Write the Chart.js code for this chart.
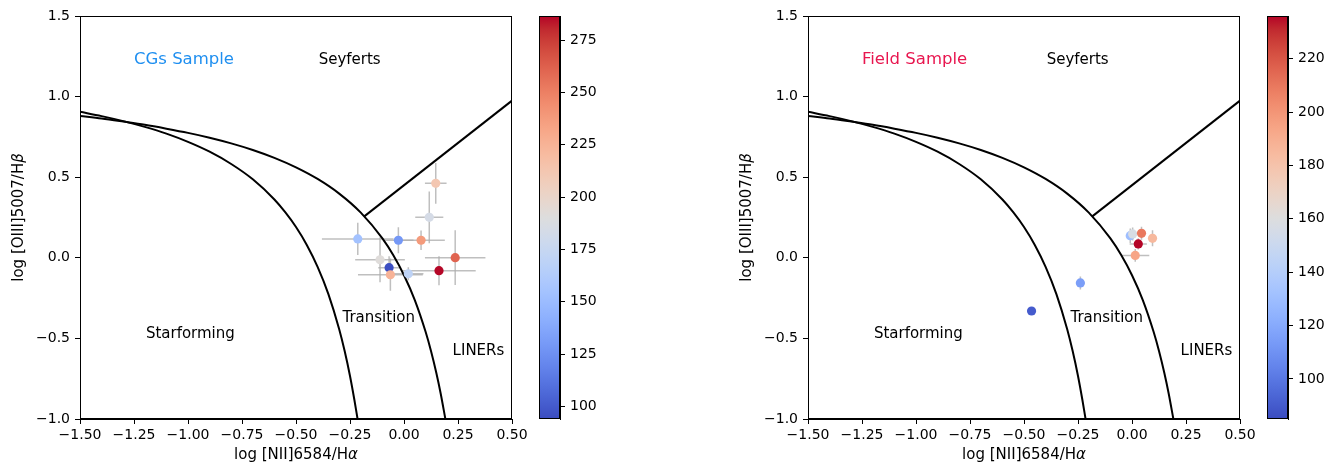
<!DOCTYPE html>
<html>
<head>
<meta charset="utf-8">
<script src="https://cdn.jsdelivr.net/npm/chart.js@4.4.1/dist/chart.umd.min.js"></script>
<style>
  html, body { margin: 0; padding: 0; background: #fff; }
  #wrap { position: relative; width: 1342px; height: 465px; overflow: hidden; }
  canvas { position: absolute; top: 0; }
</style>
</head>
<body>
<div id="wrap">
  <canvas id="mainL" width="540" height="465" style="left:0px;width:540px;height:465px"></canvas>
  <canvas id="cbL" width="100" height="465" style="left:539px;width:100px;height:465px"></canvas>
  <canvas id="mainR" width="540" height="465" style="left:728px;width:540px;height:465px"></canvas>
  <canvas id="cbR" width="75" height="465" style="left:1267px;width:75px;height:465px"></canvas>
</div>
<script>
// ---------------- DATA ----------------
// Left panel: CGs sample
const cgX    = [0.147, 0.117, -0.214, -0.026, 0.079, 0.237, -0.111, -0.069, 0.162, -0.063, 0.020];
const cgY    = [0.462, 0.251, 0.117, 0.109, 0.109, 0.001, -0.012, -0.061, -0.080, -0.105, -0.099];
const cgXErr = [0.05, 0.065, 0.166, 0.07, 0.11, 0.14, 0.115, 0.05, 0.17, 0.15, 0.07];
const cgYErr = [0.126, 0.16, 0.10, 0.08, 0.06, 0.17, 0.14, 0.07, 0.09, 0.10, 0.04];
const cgVal  = [212, 184, 154, 129, 238, 261, 192, 95, 286, 225, 170];
const cgRange = [94, 286.5];
const cgTicks = [100, 125, 150, 175, 200, 225, 250, 275];

// Right panel: Field sample
const fdX    = [-0.008, 0.003, 0.044, 0.095, 0.029, 0.015, -0.239, -0.465];
const fdY    = [0.137, 0.148, 0.152, 0.121, 0.086, 0.015, -0.156, -0.330];
const fdXErr = [0.02, 0.02, 0.02, 0.02, 0.04, 0.065, 0.02, 0.01];
const fdYErr = [0.045, 0.04, 0.04, 0.05, 0.035, 0.04, 0.04, 0.01];
const fdVal  = [130, 157, 210, 185, 236, 194, 115, 90];
const fdRange = [85, 236];
const fdTicks = [100, 120, 140, 160, 180, 200, 220];

// Demarcation curves
const kauffX = [-1.5, -1.4, -1.3, -1.2, -1.1, -1.0, -0.9, -0.8, -0.7, -0.6, -0.55, -0.5, -0.45, -0.4, -0.35, -0.3, -0.275, -0.25, -0.23, -0.215];
const kauffY = [0.906, 0.879, 0.848, 0.812, 0.770, 0.719, 0.658, 0.582, 0.487, 0.362, 0.283, 0.191, 0.080, -0.056, -0.225, -0.443, -0.577, -0.733, -0.879, -1.0];
const kewX = [-1.5, -1.4, -1.3, -1.2, -1.1, -1.0, -0.9, -0.8, -0.7, -0.6, -0.5, -0.4, -0.3, -0.2, -0.1, -0.05, 0.0, 0.05, 0.1, 0.125, 0.15, 0.17, 0.1915];
const kewY = [0.880, 0.864, 0.845, 0.825, 0.801, 0.775, 0.745, 0.710, 0.669, 0.620, 0.561, 0.489, 0.398, 0.280, 0.120, 0.017, -0.108, -0.262, -0.459, -0.578, -0.716, -0.843, -1.0];
const seyX = [-0.184, 0.5];
const seyY = [0.257, 0.975];

// Axis ticks
const xTicks = [-1.5, -1.25, -1.0, -0.75, -0.5, -0.25, 0.0, 0.25, 0.5];
const yTicks = [-1.0, -0.5, 0.0, 0.5, 1.0, 1.5];

// Region labels
const regionLabels = ['Seyferts', 'Transition', 'Starforming', 'LINERs'];
const regionX = [-0.395, -0.285, -1.195, 0.225];
const regionY = [1.2, -0.4, -0.5, -0.6];
const sampleNames = ['CGs Sample', 'Field Sample'];
const sampleX = -1.25, sampleY = 1.2;

// ---------------- STYLE ----------------
const coolwarm = [
 [59,76,192],[68,90,204],[77,104,215],[87,117,225],[98,130,234],[108,142,241],[119,154,247],[130,165,251],
 [141,176,254],[152,185,255],[163,194,255],[174,201,253],[184,208,249],[194,213,244],[204,217,238],[213,219,230],
 [221,221,221],[229,216,209],[236,211,197],[241,204,185],[245,196,173],[247,187,160],[247,177,148],[247,166,135],
 [244,154,123],[241,141,111],[236,127,99],[229,112,88],[222,96,77],[213,80,66],[203,62,56],[192,40,47],[180,4,38]];
function cmap(t) {
  t = Math.max(0, Math.min(1, t));
  const f = t * 32, i = Math.min(31, Math.floor(f)), r = f - i;
  const a = coolwarm[i], b = coolwarm[i + 1];
  return 'rgb(' + [0,1,2].map(k => Math.round(a[k] + (b[k] - a[k]) * r)).join(',') + ')';
}
const FONT = "'DejaVu Sans', sans-serif";
Chart.defaults.font.family = FONT;
Chart.defaults.font.size = 14;
Chart.defaults.color = '#000';
const fmt = (v, d) => v.toFixed(d).replace('-', '\u2212');

const framePlugin = {
  id: 'frame',
  afterDraw(chart) {
    const a = chart.chartArea, c = chart.ctx;
    c.save(); c.strokeStyle = '#000'; c.lineWidth = 1;
    c.strokeRect(Math.round(a.left) + 0.5, Math.round(a.top) + 0.5, Math.round(a.right - a.left) - 1, Math.round(a.bottom - a.top) - 1);
    c.restore();
  }
};

function drawMixed(c, parts, x, y, size) {
  let total = 0;
  parts.forEach(p => { c.font = (p[1] ? 'italic ' : '') + size + 'px ' + FONT; p.w = c.measureText(p[0]).width; total += p.w; });
  let cx = x - total / 2;
  c.textAlign = 'left'; c.textBaseline = 'alphabetic';
  parts.forEach(p => { c.font = (p[1] ? 'italic ' : '') + size + 'px ' + FONT; c.fillText(p[0], cx, y); cx += p.w; });
}

function makePanel(id, X, Y, XE, YE, V, range, sampleName, sampleColor) {
  const colors = V.map(v => cmap((v - range[0]) / (range[1] - range[0])));
  const pts = X.map((x, i) => ({ x, y: Y[i] }));
  const line = (xs, ys) => xs.map((x, i) => ({ x, y: ys[i] }));
  const lineStyle = { showLine: true, pointRadius: 0, borderColor: '#000', borderWidth: 2, fill: false, order: 2 };
  const errPlugin = {
    id: 'errbars',
    beforeDatasetsDraw(chart) {
      const xs = chart.scales.x, ys = chart.scales.y, c = chart.ctx;
      c.save(); c.strokeStyle = 'rgba(175,175,175,0.8)'; c.lineWidth = 1.5;
      X.forEach((x, i) => {
        c.beginPath();
        c.moveTo(xs.getPixelForValue(x - XE[i]), ys.getPixelForValue(Y[i]));
        c.lineTo(xs.getPixelForValue(x + XE[i]), ys.getPixelForValue(Y[i]));
        c.moveTo(xs.getPixelForValue(x), ys.getPixelForValue(Y[i] - YE[i]));
        c.lineTo(xs.getPixelForValue(x), ys.getPixelForValue(Y[i] + YE[i]));
        c.stroke();
      });
      c.restore();
    }
  };
  const textPlugin = {
    id: 'texts',
    afterDatasetsDraw(chart) {
      const xs = chart.scales.x, ys = chart.scales.y, c = chart.ctx, a = chart.chartArea;
      c.save(); c.textAlign = 'left'; c.textBaseline = 'alphabetic';
      c.fillStyle = '#000'; c.font = '15px ' + FONT;
      regionLabels.forEach((t, i) => c.fillText(t, xs.getPixelForValue(regionX[i]), ys.getPixelForValue(regionY[i])));
      c.fillStyle = sampleColor; c.font = '16.5px ' + FONT;
      c.fillText(sampleName, xs.getPixelForValue(sampleX), ys.getPixelForValue(sampleY));
      c.fillStyle = '#000';
      drawMixed(c, [['log [NII]6584/H', false], ['\u03b1', true]], (a.left + a.right) / 2, 459, 15);
      c.save(); c.translate(23, (a.top + a.bottom) / 2); c.rotate(-Math.PI / 2);
      drawMixed(c, [['log [OIII]5007/H', false], ['\u03b2', true]], 0, 0, 15);
      c.restore();
      c.restore();
    }
  };
  const axisCommon = {
    type: 'linear',
    grid: { display: true, drawOnChartArea: false, drawTicks: true, tickLength: 5, color: '#000', tickColor: '#000', tickWidth: 1 },
    border: { display: true, color: '#000', width: 1 },
  };
  return new Chart(document.getElementById(id), {
    type: 'scatter',
    data: {
      datasets: [
        { data: pts, backgroundColor: colors, pointRadius: 4.6, pointHoverRadius: 4.6, borderWidth: 0, order: 1 },
        Object.assign({ data: line(kauffX, kauffY), cubicInterpolationMode: 'monotone' }, lineStyle),
        Object.assign({ data: line(kewX, kewY), cubicInterpolationMode: 'monotone' }, lineStyle),
        Object.assign({ data: line(seyX, seyY) }, lineStyle),
      ]
    },
    options: {
      responsive: false, animation: false, devicePixelRatio: 1,
      layout: { padding: { left: 0, top: 16, right: 28, bottom: 0 } },
      plugins: { legend: { display: false }, tooltip: { enabled: false } },
      scales: {
        x: Object.assign({}, axisCommon, {
          min: -1.5, max: 0.5,
          afterBuildTicks: ax => { ax.ticks = xTicks.map(v => ({ value: v })); },
          afterFit: ax => { ax.height = 46; },
          ticks: { padding: 3, maxRotation: 0, autoSkip: false, color: '#000', callback: v => fmt(v, 2) },
        }),
        y: Object.assign({}, axisCommon, {
          min: -1.0, max: 1.5,
          afterBuildTicks: ax => { ax.ticks = yTicks.map(v => ({ value: v })); },
          afterFit: ax => { ax.width = 80; },
          ticks: { padding: 5, autoSkip: false, color: '#000', callback: v => fmt(v, 1) },
        }),
      }
    },
    plugins: [errPlugin, textPlugin, framePlugin]
  });
}

function makeColorbar(id, range, ticks, canvasW) {
  return new Chart(document.getElementById(id), {
    type: 'bar',
    data: {
      labels: [''],
      datasets: [{
        data: [[range[0], range[1]]],
        barPercentage: 1, categoryPercentage: 1, borderWidth: 0, borderSkipped: false,
        backgroundColor: ctx => {
          const a = ctx.chart.chartArea;
          if (!a) return '#ccc';
          const g = ctx.chart.ctx.createLinearGradient(0, a.bottom, 0, a.top);
          coolwarm.forEach((c, i) => g.addColorStop(i / 32, 'rgb(' + c.join(',') + ')'));
          return g;
        }
      }]
    },
    options: {
      responsive: false, animation: false, devicePixelRatio: 1,
      layout: { padding: { left: 0, top: 16, right: 0, bottom: 46 } },
      plugins: { legend: { display: false }, tooltip: { enabled: false } },
      scales: {
        x: { display: false },
        y: {
          position: 'right', min: range[0], max: range[1],
          afterBuildTicks: ax => { ax.ticks = ticks.map(v => ({ value: v })); },
          afterFit: ax => { ax.width = canvasW - 21; },
          grid: { display: true, drawOnChartArea: false, tickLength: 5, color: '#000', tickColor: '#000' },
          border: { display: true, color: '#000' },
          ticks: { padding: 5, autoSkip: false, color: '#000', callback: v => String(v) }
        }
      }
    },
    plugins: [framePlugin]
  });
}

makePanel('mainL', cgX, cgY, cgXErr, cgYErr, cgVal, cgRange, sampleNames[0], '#1f8ff0');
makeColorbar('cbL', cgRange, cgTicks, 100);
makePanel('mainR', fdX, fdY, fdXErr, fdYErr, fdVal, fdRange, sampleNames[1], '#e8164f');
makeColorbar('cbR', fdRange, fdTicks, 75);
</script>
</body>
</html>
